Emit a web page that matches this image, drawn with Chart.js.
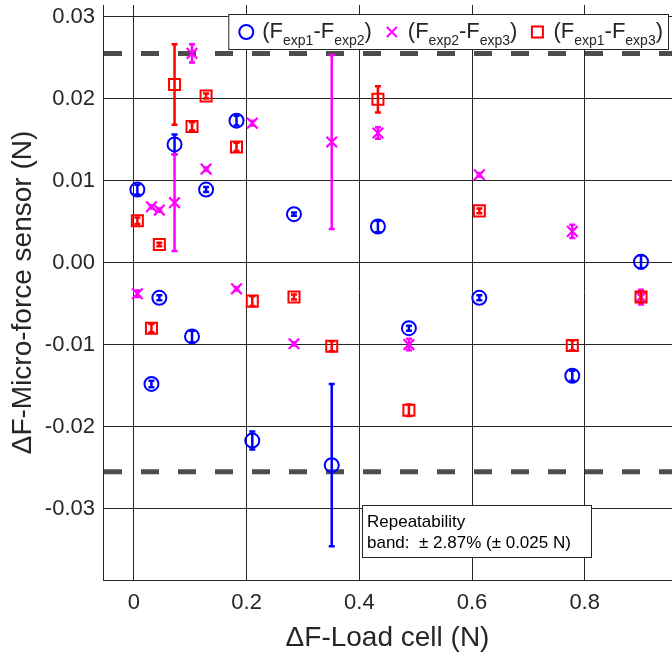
<!DOCTYPE html>
<html>
<head>
<meta charset="utf-8">
<script src="https://cdn.jsdelivr.net/npm/chart.js@4.4.1/dist/chart.umd.min.js"></script>
<style>
  html, body { margin: 0; padding: 0; background: #fff; }
  #wrap { width: 672px; height: 658px; }
</style>
</head>
<body>
<div id="wrap"><canvas id="c" width="672" height="658"></canvas></div>
<script>
// load cell differences (N), shared by the three comparisons
const loadCell = [0.006, 0.031, 0.045, 0.072, 0.103, 0.128, 0.182, 0.210, 0.284, 0.351, 0.433, 0.488, 0.613, 0.778, 0.900];

// (Fexp1 - Fexp2)
const diff12 = [0.0089, -0.0148, -0.0043, 0.0144, -0.0090, 0.0089, 0.0173, -0.0217, 0.0059, -0.0247, 0.0044, -0.0080, -0.0043, -0.0138, 0.0001];
const err12  = [0.0006, 0.0004, 0.0003, 0.0012, 0.0007, 0.0003, 0.0006, 0.0011, 0.0002, 0.0099, 0.0007, 0.0003, 0.0003, 0.0006, 0.0008];

// (Fexp2 - Fexp3)
const diff23 = [-0.0038, 0.0068, 0.0064, 0.0073, 0.0255, 0.0114, -0.0032, 0.0170, -0.0099, 0.0147, 0.0158, -0.0100, 0.0107, 0.0038, -0.0042];
const err23  = [0.0004, 0.0002, 0.0002, 0.0059, 0.0011, 0.0002, 0.0002, 0.0003, 0.0002, 0.0106, 0.0007, 0.0007, 0.0002, 0.0008, 0.0009];

// (Fexp1 - Fexp3)
const diff13 = [0.0051, -0.0080, 0.0022, 0.0217, 0.0166, 0.0203, 0.0141, -0.0047, -0.0042, -0.0102, 0.0199, -0.0180, 0.0063, -0.0101, -0.0042];
const err13  = [0.0004, 0.0005, 0.0002, 0.0049, 0.0005, 0.0003, 0.0005, 0.0006, 0.0003, 0.0006, 0.0016, 0.0007, 0.0003, 0.0006, 0.0006];

const xTicks = [0, 0.2, 0.4, 0.6, 0.8];
const yTicks = [-0.03, -0.02, -0.01, 0, 0.01, 0.02, 0.03];
const bandLimit = 0.0255;

const FONT = '"Liberation Sans", Arial, Helvetica, sans-serif';
const INK = '#262626';

Chart.defaults.font.family = FONT;
Chart.defaults.color = INK;

const toPoints = (ys) => loadCell.map((x, i) => ({ x, y: ys[i] }));

// vertical error bars with small caps, drawn under each series' markers
const errorBars = {
  id: 'errorBars',
  beforeDatasetDraw(chart, args) {
    const ds = chart.data.datasets[args.index];
    if (!ds.errors) return;
    const { ctx, scales: { x, y } } = chart;
    ctx.save();
    ctx.strokeStyle = ds.borderColor;
    ctx.lineWidth = 2.5;
    ds.data.forEach((p, i) => {
      const e = ds.errors[i];
      const px = x.getPixelForValue(p.x);
      const top = y.getPixelForValue(p.y + e);
      const bot = y.getPixelForValue(p.y - e);
      ctx.beginPath();
      ctx.moveTo(px, top); ctx.lineTo(px, bot);
      ctx.moveTo(px - 3, top); ctx.lineTo(px + 3, top);
      ctx.moveTo(px - 3, bot); ctx.lineTo(px + 3, bot);
      ctx.stroke();
    });
    ctx.restore();
  }
};

// repeatability band (dashed)
const bandLines = {
  id: 'bandLines',
  beforeDatasetsDraw(chart) {
    const { ctx, chartArea: a, scales: { y } } = chart;
    ctx.save();
    ctx.strokeStyle = '#4d4d4d';
    ctx.lineWidth = 5;
    ctx.setLineDash([18, 19]);
    [bandLimit, -bandLimit].forEach(v => {
      const py = y.getPixelForValue(v);
      ctx.beginPath();
      ctx.moveTo(a.left + 1, py);
      ctx.lineTo(a.right, py);
      ctx.stroke();
    });
    ctx.restore();
  }
};

function drawMarker(ctx, style, color, cx, cy) {
  ctx.save();
  ctx.strokeStyle = color;
  ctx.lineWidth = 2;
  ctx.beginPath();
  if (style === 'circle') {
    ctx.arc(cx, cy, 7, 0, Math.PI * 2);
  } else if (style === 'crossRot') {
    ctx.moveTo(cx - 5, cy - 5); ctx.lineTo(cx + 5, cy + 5);
    ctx.moveTo(cx - 5, cy + 5); ctx.lineTo(cx + 5, cy - 5);
  } else {
    ctx.rect(cx - 5.5, cy - 5.5, 11, 11);
  }
  ctx.stroke();
  ctx.restore();
}

// text with subscripts: parts = [[text, isSub], ...]
function subText(ctx, parts, x, y, measureOnly) {
  let cur = x;
  parts.forEach(([t, sub]) => {
    ctx.font = sub ? '14px ' + FONT : '22px ' + FONT;
    if (!measureOnly) ctx.fillText(t, cur, sub ? y + 7 : y);
    cur += ctx.measureText(t).width;
  });
  return cur - x;
}

const legendItems = [
  { style: 'circle', color: '#0000ff', parts: [['(F', 0], ['exp1', 1], ['-F', 0], ['exp2', 1], [')', 0]] },
  { style: 'crossRot', color: '#ff00ff', parts: [['(F', 0], ['exp2', 1], ['-F', 0], ['exp3', 1], [')', 0]] },
  { style: 'rect', color: '#ff0000', parts: [['(F', 0], ['exp1', 1], ['-F', 0], ['exp3', 1], [')', 0]] }
];

const boxes = {
  id: 'boxes',
  afterDraw(chart) {
    const { ctx } = chart;
    ctx.save();
    ctx.textBaseline = 'alphabetic';
    ctx.textAlign = 'left';

    // legend, anchored to the top right of the axes
    const right = 668, top = 14, h = 35, base = 38;
    let w = 0;
    legendItems.forEach(it => { w += 34 + subText(ctx, it.parts, 0, 0, true) + 2; });
    w += 3;
    const left = right - w;
    ctx.fillStyle = '#fff';
    ctx.fillRect(left, top, w, h);
    ctx.strokeStyle = INK;
    ctx.lineWidth = 1;
    ctx.strokeRect(left + 0.5, top + 0.5, w, h);
    let cur = left;
    legendItems.forEach(it => {
      drawMarker(ctx, it.style, it.color, cur + 18, top + 18);
      ctx.fillStyle = INK;
      cur += 34 + subText(ctx, it.parts, cur + 34, base) + 2;
    });

    // repeatability note
    ctx.fillStyle = '#fff';
    ctx.fillRect(362, 505, 229, 52);
    ctx.strokeStyle = INK;
    ctx.strokeRect(362.5, 505.5, 229, 52);
    ctx.fillStyle = '#000';
    ctx.font = '17px ' + FONT;
    ctx.fillText('Repeatability', 367, 527);
    ctx.fillText('band:  \u00b1 2.87% (\u00b1 0.025 N)', 367, 548);
    ctx.restore();
  }
};

new Chart(document.getElementById('c'), {
  type: 'scatter',
  data: {
    datasets: [
      {
        label: '(Fexp1-Fexp2)', data: toPoints(diff12), errors: err12, order: 3,
        pointStyle: 'circle', pointRadius: 7, pointBorderWidth: 2,
        borderColor: '#0000ff', backgroundColor: 'rgba(0,0,0,0)'
      },
      {
        label: '(Fexp2-Fexp3)', data: toPoints(diff23), errors: err23, order: 2,
        pointStyle: 'crossRot', pointRadius: 7.5, pointBorderWidth: 2.2,
        borderColor: '#ff00ff', backgroundColor: 'rgba(0,0,0,0)'
      },
      {
        label: '(Fexp1-Fexp3)', data: toPoints(diff13), errors: err13, order: 1,
        pointStyle: 'rect', pointRadius: 7.8, pointBorderWidth: 2,
        borderColor: '#ff0000', backgroundColor: 'rgba(0,0,0,0)'
      }
    ]
  },
  options: {
    responsive: false,
    animation: false,
    devicePixelRatio: 1,
    layout: { autoPadding: false, padding: { top: 5, right: 0, left: 0, bottom: 0 } },
    plugins: { legend: { display: false }, tooltip: { enabled: false } },
    scales: {
      x: {
        type: 'linear', min: -0.055, max: 0.955,
        afterBuildTicks: s => { s.ticks = xTicks.map(v => ({ value: v })); },
        afterFit: s => { s.height = 78; s.paddingLeft = 0; s.paddingRight = 0; },
        ticks: {
          font: { size: 22 }, color: INK, padding: 10,
          callback: v => (v === 0 ? '0' : v.toFixed(1))
        },
        grid: { color: INK, lineWidth: 1, drawTicks: false },
        border: { color: INK, width: 1 },
        title: {
          display: true, text: '\u0394F-Load cell (N)', color: INK,
          font: { size: 28 }, padding: { top: 0, bottom: 3 }
        }
      },
      y: {
        type: 'linear', min: -0.0387, max: 0.0314,
        afterBuildTicks: s => { s.ticks = yTicks.map(v => ({ value: v })); },
        afterFit: s => { s.width = 103; s.paddingTop = 0; s.paddingBottom = 0; },
        ticks: {
          font: { size: 22 }, color: INK, padding: 8,
          callback: v => (Math.abs(v) < 1e-9 ? '0.00' : v.toFixed(2))
        },
        grid: { color: INK, lineWidth: 1, drawTicks: false },
        border: { color: INK, width: 1 },
        title: {
          display: true, text: '\u0394F-Micro-force sensor (N)', color: INK,
          font: { size: 28 }, padding: { top: 6, bottom: 0 }
        }
      }
    }
  },
  plugins: [bandLines, errorBars, boxes]
});
</script>
</body>
</html>
